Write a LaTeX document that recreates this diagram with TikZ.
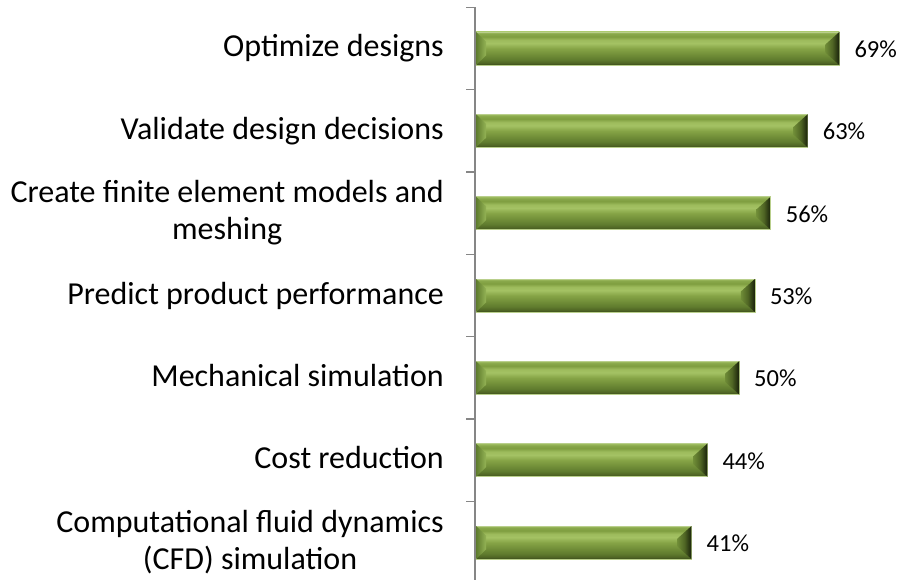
\documentclass[tikz,border=0pt]{standalone}
\usepackage{fontspec}
\setmainfont{Carlito}
\usepackage{tikz}
\usetikzlibrary{positioning}
\definecolor{axisgray}{HTML}{868686}
\definecolor{barrim}{HTML}{B9CF8C}
\definecolor{gA}{HTML}{3B4D1B}
\definecolor{gB}{HTML}{4F6524}
\definecolor{gC}{HTML}{5F7B2E}
\definecolor{gD}{HTML}{6F8C37}
\definecolor{gE}{HTML}{86A446}
\definecolor{gF}{HTML}{A4C264}
\definecolor{gG}{HTML}{9DBB5C}
\definecolor{gH}{HTML}{7F9E40}
\definecolor{gI}{HTML}{88A74A}
\definecolor{gJ}{HTML}{A0BE62}
\definecolor{gK}{HTML}{18200A}
\definecolor{gL}{HTML}{6C8A35}
\definecolor{gM}{HTML}{5D7A2C}
\definecolor{gN}{HTML}{94B355}
\pgfdeclareverticalshading{barbody}{100bp}{color(0bp)=(gA); color(25bp)=(gA);
  color(28bp)=(gB); color(33bp)=(gC); color(40bp)=(gD); color(50bp)=(gE);
  color(58bp)=(gF); color(63bp)=(gG); color(68bp)=(gH); color(72bp)=(gI);
  color(75bp)=(gJ); color(100bp)=(gJ)}
\pgfdeclarehorizontalshading{barright}{100bp}{color(0bp)=(gD); color(25bp)=(gD);
  color(50bp)=(gB); color(75bp)=(gK); color(100bp)=(gK)}
\pgfdeclarehorizontalshading{barleft}{100bp}{color(0bp)=(gM); color(25bp)=(gM);
  color(75bp)=(gN); color(100bp)=(gN)}
\tikzset{
  catlabel/.style={inner sep=0pt, align=center, font=\fontsize{32}{37}\selectfont},
  pct/.style={inner sep=0pt, anchor=base west, font=\fontsize{24.5}{29}\selectfont},
}
% one bevelled bar: name, centre y, value
\newcommand{\greenbar}[3]{%
  \pgfmathsetmacro{\barend}{475+5.28*#3}
  \path[shading=barbody, shade, draw=barrim, line width=0.6pt]
    (476,#2-16.5) rectangle (\barend,#2+16.5);
  \shade[shading=barleft] (476,#2-16.5) -- (486,#2-7) -- (486,#2+7) -- (476,#2+16.5) -- cycle;
  \shade[shading=barright] (\barend,#2-16.5) -- (\barend-14,#2-4) -- (\barend-14,#2+4) -- (\barend,#2+16.5) -- cycle;
  \coordinate (#1) at (\barend,#2+9);
  \node[pct] (#1-val) at ([xshift=15pt]#1) {#3\%};
}

\begin{document}
\begin{tikzpicture}[x=1pt,y=-1pt]
            \useasboundingbox (0,0) rectangle (902,580);
            \greenbar{optim}{48.5}{69}
            \greenbar{valid}{130.8}{63}
            \greenbar{fem}{213.2}{56}
            \greenbar{predict}{295.5}{53}
            \greenbar{mech}{377.8}{50}
            \greenbar{cost}{460.2}{44}
            \greenbar{cfd}{542.5}{41}
            \draw[axisgray, line width=1.1pt] (475,7.3) -- (475,580);
            \draw[axisgray, line width=1.1pt]
            (466,7.3) -- (475,7.3) (466,89.7) -- (475,89.7)
            (466,172) -- (475,172) (466,254.3) -- (475,254.3)
            (466,336.7) -- (475,336.7) (466,419) -- (475,419)
            (466,501.3) -- (475,501.3);
            \node[catlabel, anchor=base east] (l-optim) at (444,57) {Optimize designs};
            \node[catlabel, anchor=base east] (l-valid) at (444,139.3) {Validate design decisions};
            \node[catlabel, anchor=east] (l-fem) at (444,213) {Create finite element models and\\meshing};
            \node[catlabel, anchor=base east] (l-predict) at (444,304) {Predict product performance};
            \node[catlabel, anchor=base east] (l-mech) at (444,386.3) {Mechanical simulation};
            \node[catlabel, anchor=base east] (l-cost) at (444,468.7) {Cost reduction};
            \node[catlabel, anchor=east] (l-cfd) at (444,542.5) {Computational fluid dynamics\\(CFD) simulation};
        \end{tikzpicture}
\end{document}
